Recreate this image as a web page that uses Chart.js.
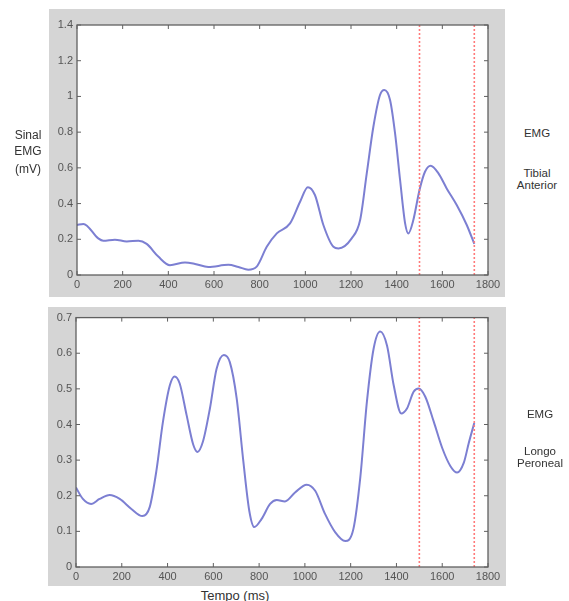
<!DOCTYPE html>
<html>
<head>
<meta charset="utf-8">
<script src="https://cdn.jsdelivr.net/npm/chart.js@4.4.0/dist/chart.umd.min.js"></script>
<style>
  body { margin: 0; background: #fff; font-family: "Liberation Sans", Arial, sans-serif; }
  #page { position: relative; width: 569px; height: 601px; overflow: hidden; }
  .panel { position: absolute; }
  .lbl { position: absolute; color: #333; text-align: center; line-height: 16px; white-space: nowrap; }
</style>
</head>
<body>
<div id="page">
  <div class="panel" style="left:49px;top:9px;width:456px;height:288px;"><canvas id="chartTA"></canvas></div>
  <div class="panel" style="left:48px;top:307px;width:458px;height:279px;"><canvas id="chartLP"></canvas></div>

  <div class="lbl" style="left:0;width:56px;top:127px;font-size:12px;">Sinal</div>
  <div class="lbl" style="left:0;width:56px;top:143px;font-size:12px;">EMG</div>
  <div class="lbl" style="left:0;width:56px;top:161px;font-size:12px;">(mV)</div>

  <div class="lbl" style="left:505px;width:64px;top:125px;font-size:11.5px;">EMG</div>
  <div class="lbl" style="left:505px;width:64px;top:165px;font-size:11.5px;">Tibial</div>
  <div class="lbl" style="left:505px;width:64px;top:177px;font-size:11.5px;">Anterior</div>

  <div class="lbl" style="left:505px;width:70px;top:406px;font-size:11.5px;">EMG</div>
  <div class="lbl" style="left:505px;width:70px;top:443px;font-size:11.5px;">Longo</div>
  <div class="lbl" style="left:505px;width:70px;top:455px;font-size:11.5px;">Peroneal</div>

  <div class="lbl" style="left:185px;width:100px;top:588px;font-size:13px;">Tempo (ms)</div>
</div>
<script>
// Tibial anterior (top)
const timeTA = [0, 28, 93, 115, 166, 218, 269, 305, 356, 407, 473, 517, 575, 663, 707, 750, 787, 831, 875, 933,
  977, 1011, 1042, 1079, 1123, 1145, 1203, 1240, 1269, 1298, 1327, 1346, 1371, 1393, 1415, 1437, 1451, 1473, 1500, 1524,
  1549, 1583, 1619, 1663, 1707, 1740];
const emgTA = [0.28, 0.286, 0.205, 0.192, 0.198, 0.188, 0.192, 0.174, 0.103, 0.055, 0.07, 0.062, 0.045, 0.057, 0.045, 0.03, 0.047, 0.158, 0.233, 0.289,
  0.41, 0.492, 0.448, 0.28, 0.158, 0.149, 0.205, 0.308, 0.569, 0.83, 1.008, 1.036, 0.98, 0.793, 0.532, 0.289, 0.233, 0.308, 0.476, 0.578,
  0.612, 0.569, 0.485, 0.392, 0.28, 0.174];

// Longo peroneal (bottom)
const timeLP = [0, 30, 66, 103, 147, 191, 242, 290, 322, 351, 380, 410, 431, 453, 483, 512, 531, 555, 585, 614,
  646, 672, 702, 731, 757, 779, 811, 848, 877, 913, 957, 1008, 1045, 1088, 1132, 1176, 1212, 1242, 1271, 1300,
  1329, 1359, 1388, 1421, 1446, 1475, 1497, 1526, 1563, 1600, 1636, 1665, 1694, 1716, 1740];
const emgLP = [0.223, 0.191, 0.177, 0.191, 0.202, 0.191, 0.163, 0.143, 0.168, 0.269, 0.408, 0.51, 0.535, 0.515, 0.427, 0.344, 0.323, 0.353, 0.445, 0.556,
  0.595, 0.575, 0.473, 0.297, 0.158, 0.112, 0.135, 0.177, 0.188, 0.184, 0.209, 0.231, 0.214, 0.149, 0.098, 0.073, 0.107, 0.251, 0.464, 0.612,
  0.661, 0.621, 0.51, 0.431, 0.445, 0.492, 0.501, 0.478, 0.408, 0.334, 0.283, 0.265, 0.292, 0.348, 0.404];

// vertical red markers (ms)
const markers = [1500, 1740];

const xMax = 1800, xStep = 200;

// gray panel, white plot area, box and inward ticks like matlab
const boxPlugin = {
  id: 'box',
  beforeDraw(chart) {
    const ctx = chart.ctx, a = chart.chartArea;
    ctx.save();
    ctx.fillStyle = '#d5d5d5';
    ctx.fillRect(0, 0, chart.width, chart.height);
    ctx.fillStyle = '#fff';
    ctx.fillRect(a.left, a.top, a.right - a.left, a.bottom - a.top);
    ctx.restore();
  },
  afterDraw(chart) {
    const ctx = chart.ctx, a = chart.chartArea;
    const xs = chart.scales.x, ys = chart.scales.y;
    ctx.save();
    ctx.strokeStyle = '#606060';
    ctx.lineWidth = 1.3;
    ctx.strokeRect(a.left, a.top, a.right - a.left, a.bottom - a.top);
    ctx.lineWidth = 1;
    ctx.beginPath();
    xs.ticks.forEach(t => {
      const px = xs.getPixelForValue(t.value);
      ctx.moveTo(px, a.bottom); ctx.lineTo(px, a.bottom - 4);
      ctx.moveTo(px, a.top); ctx.lineTo(px, a.top + 4);
    });
    ys.ticks.forEach(t => {
      const py = ys.getPixelForValue(t.value);
      ctx.moveTo(a.left, py); ctx.lineTo(a.left + 4, py);
      ctx.moveTo(a.right, py); ctx.lineTo(a.right - 4, py);
    });
    ctx.stroke();
    ctx.restore();
  }
};

function makeChart(id, times, values, yMax, yStep, pad) {
  const line = times.map((t, i) => ({ x: t, y: values[i] }));
  const markerSets = markers.map(m => ({
    data: [{ x: m, y: 0 }, { x: m, y: yMax }],
    borderColor: '#ff7a7a',
    borderWidth: 1.6,
    borderDash: [2, 2],
    pointRadius: 0,
    order: 1
  }));
  const tickFont = { family: '"Liberation Sans", Arial, sans-serif', size: 11 };
  return new Chart(document.getElementById(id), {
    type: 'line',
    data: {
      datasets: [{
        data: line,
        borderColor: '#7c7fd2',
        borderWidth: 2,
        pointRadius: 0,
        cubicInterpolationMode: 'monotone',
        order: 2
      }, ...markerSets]
    },
    options: {
      responsive: true,
      maintainAspectRatio: false,
      animation: false,
      layout: { padding: { top: pad.top, right: pad.right, left: 0, bottom: 0 } },
      plugins: { legend: { display: false }, tooltip: { enabled: false } },
      scales: {
        x: {
          type: 'linear', min: 0, max: xMax,
          grid: { display: false, drawTicks: false },
          border: { display: false },
          ticks: { stepSize: xStep, color: '#555', font: tickFont, padding: 3, maxRotation: 0,
                   callback: v => String(Math.round(v)) },
          afterFit: s => { s.height = pad.bottom; }
        },
        y: {
          min: 0, max: yMax,
          grid: { display: false, drawTicks: false },
          border: { display: false },
          ticks: { stepSize: yStep, color: '#555', font: tickFont, padding: 4,
                   callback: v => String(+v.toFixed(2)) },
          afterFit: s => { s.width = pad.left; }
        }
      }
    },
    plugins: [boxPlugin]
  });
}

makeChart('chartTA', timeTA, emgTA, 1.4, 0.2, { top: 16, right: 17, left: 28, bottom: 22 });
makeChart('chartLP', timeLP, emgLP, 0.7, 0.1, { top: 8, right: 18, left: 28, bottom: 19 });
</script>
</body>
</html>
